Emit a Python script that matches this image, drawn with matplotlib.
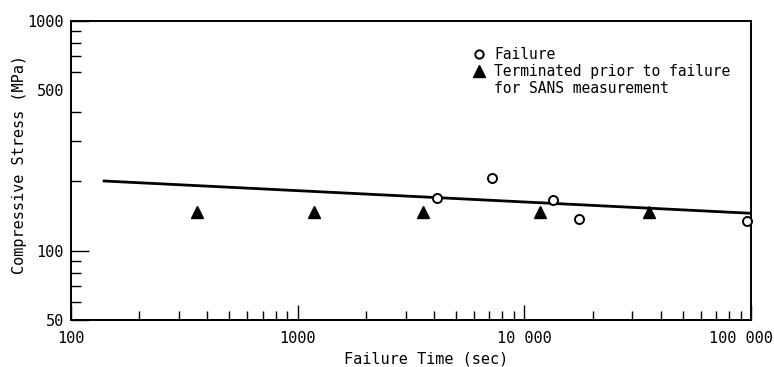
import matplotlib
matplotlib.use("Agg")
import matplotlib.pyplot as plt
from matplotlib.lines import Line2D
from matplotlib.transforms import ScaledTranslation

plt.rcParams['font.family'] = ['DejaVu Sans Mono']

# failure (open circles)
fail_time = [4100, 7200, 13400, 17400, 95600]
fail_stress = [170, 207, 166, 138, 135]

# runs stopped for SANS (filled triangles)
term_time = [358, 1180, 3580, 11700, 35600]
term_stress = [148, 148, 148, 148, 148]

# fitted trend line end points
fit_time = [140, 100000]
fit_stress = [201, 145.5]

x_major = [100, 1000, 10000, 100000]
x_labels = ['100', '1000', '10 000', '100 000']
y_major = [50, 100, 500, 1000]
y_labels = ['50', '100', '500', '1000']

fig = plt.figure(figsize=(7.74, 3.67), dpi=100)
ax = fig.add_axes([71 / 774, 1 - 320 / 367, 680 / 774, 299.3 / 367])

ax.plot(fit_time, fit_stress, color='black', lw=2.0, zorder=2)
ax.plot(term_time, term_stress, linestyle='none', marker='^', ms=8.5,
        color='black', zorder=3)
ax.plot(fail_time, fail_stress, linestyle='none', marker='o', ms=6.5,
        mfc='white', mec='black', mew=1.4, zorder=4, clip_on=False)

ax.set_xscale('log')
ax.set_yscale('log')
ax.set_xlim(100, 100000)
ax.set_ylim(50, 1000)

ax.set_xticks(x_major)
ax.set_xticklabels(x_labels)
ax.set_xticks([m * d for d in (100, 1000, 10000) for m in range(2, 10)], minor=True)
ax.set_yticks(y_major)
ax.set_yticklabels(y_labels)
ax.set_yticks([60, 70, 80, 90, 200, 300, 400, 600, 700, 800, 900], minor=True)
ax.xaxis.set_minor_formatter(plt.NullFormatter())
ax.yaxis.set_minor_formatter(plt.NullFormatter())

ax.tick_params(axis='both', which='both', direction='in', labelsize=11,
               width=1.0, top=False, right=False)
ax.tick_params(axis='x', which='major', length=11, pad=8)
ax.tick_params(axis='x', which='minor', length=6.5)
ax.tick_params(axis='y', which='major', length=13, pad=5)
ax.tick_params(axis='y', which='minor', length=7)
for t in ax.yaxis.get_major_ticks():
    if t.get_loc() == 500:
        t.tick1line.set_markersize(0)

# pull the last x label inward so it stays on the canvas
last = ax.get_xticklabels()[-1]
last.set_transform(last.get_transform() + ScaledTranslation(-0.10, 0, fig.dpi_scale_trans))

for s in ax.spines.values():
    s.set_linewidth(1.4)

ax.set_xlabel('Failure Time (sec)', fontsize=11)
ax.xaxis.set_label_coords(0.522, -0.105)
ax.set_ylabel('Compressive Stress (MPa)', fontsize=11)
ax.yaxis.set_label_coords(-0.064, 0.52)

handles = [
    Line2D([], [], linestyle='none', marker='o', ms=6, mfc='white',
           mec='black', mew=1.4),
    Line2D([], [], linestyle='none', marker='^', ms=8, color='black'),
    Line2D([], [], linestyle='none'),
]
labels = ['Failure', 'Terminated prior to failure', 'for SANS measurement']
ax.legend(handles, labels, loc='upper left', bbox_to_anchor=(0.591, 0.912),
          frameon=False, fontsize=10.5, handlelength=0.85, handletextpad=0.6,
          borderpad=0, borderaxespad=0, labelspacing=0.12)

fig.savefig('out.png', dpi=100)
